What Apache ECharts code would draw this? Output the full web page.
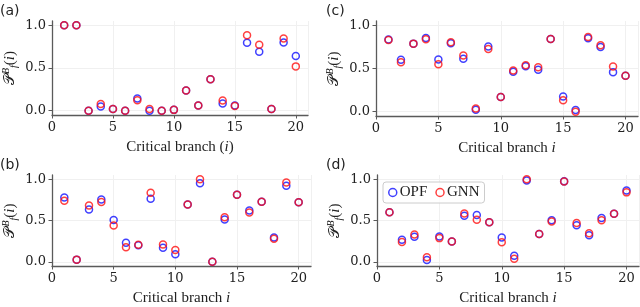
<!DOCTYPE html>
<html><head><meta charset="utf-8">
<script src="https://cdn.jsdelivr.net/npm/echarts@6/dist/echarts.min.js"></script>
<style>html,body{margin:0;padding:0;background:#fff}#c{width:640px;height:307px}</style>
</head><body><div id="c"></div>
<script>
const branches = [1,2,3,4,5,6,7,8,9,10,11,12,13,14,15,16,17,18,19,20];
const xTicks = [0,5,10,15,20];
const yTicks = [0,0.5,1.0];
// panel (a)
const opfA = [1.0,1.0,0.0,0.05,0.02,0.0,0.143,0.0,0.0,0.01,0.236,0.062,0.368,0.085,0.062,0.795,0.69,0.02,0.798,0.64];
const gnnA = [1.0,1.0,0.0,0.078,0.02,0.0,0.124,0.02,0.0,0.01,0.236,0.062,0.368,0.12,0.054,0.884,0.771,0.02,0.845,0.519];
// panel (b)
const opfB = [0.778,0.027,0.632,0.755,0.506,0.23,0.2,0.762,0.172,0.092,0.693,0.95,0.0,0.513,0.812,0.621,0.728,0.295,0.92,0.72];
const gnnB = [0.739,0.027,0.682,0.724,0.44,0.176,0.207,0.835,0.21,0.142,0.693,1.0,0.0,0.54,0.812,0.598,0.728,0.28,0.958,0.72];
// panel (c)
const opfC = [0.835,0.6,0.788,0.854,0.604,0.792,0.612,0.023,0.754,0.169,0.462,0.527,0.485,0.842,0.177,0.019,0.85,0.75,0.458,0.415];
const gnnC = [0.83,0.573,0.788,0.838,0.55,0.804,0.65,0.038,0.727,0.169,0.477,0.538,0.515,0.842,0.131,0.0,0.865,0.77,0.523,0.415];
// panel (d)
const opfD = [0.6,0.268,0.303,0.023,0.307,0.245,0.556,0.567,0.479,0.295,0.073,0.985,0.337,0.502,0.973,0.444,0.322,0.529,0.582,0.862];
const gnnD = [0.6,0.241,0.33,0.057,0.287,0.245,0.586,0.51,0.479,0.238,0.038,1.0,0.337,0.487,0.97,0.471,0.345,0.502,0.582,0.84];

const panels = [
  {label:'(a)', opf:opfA, gnn:gnnA, xname:'{n|Critical branch (}{i|i}{n|)}', grid:{left:49,top:21,width:259,height:94}, lx:0, ly:4},
  {label:'(b)', opf:opfB, gnn:gnnB, xname:'{n|Critical branch }{i|i}', grid:{left:49,top:175,width:262,height:95}, lx:0, ly:158},
  {label:'(c)', opf:opfC, gnn:gnnC, xname:'{n|Critical branch }{i|i}', grid:{left:376,top:21,width:262,height:95}, lx:326, ly:4},
  {label:'(d)', opf:opfD, gnn:gnnD, xname:'{n|Critical branch }{i|i}', grid:{left:377,top:175,width:262,height:95}, lx:326, ly:158}
];
const SERIF = 'DejaVu Serif';
const TSERIF = 'Liberation Serif';
const axisCol = '#5a5a5a';
const grids=[], xAxes=[], yAxes=[], series=[], graphics=[];
panels.forEach((p,k)=>{
  grids.push(p.grid);
  xAxes.push({type:'value', gridIndex:k, min:0, max:21, interval:5,
    axisLine:{show:true, onZero:false, lineStyle:{color:axisCol, width:1.3}},
    axisTick:{show:true, length:3.5, lineStyle:{color:axisCol}},
    axisLabel:{margin:6, fontFamily:SERIF, fontSize:13, fontWeight:'normal', color:'#222', showMaxLabel:false},
    splitLine:{show:true, lineStyle:{color:'#f0f0f0', width:1}},
    name:p.xname, nameLocation:'middle', nameGap:25,
    nameTextStyle:{fontFamily:TSERIF, fontWeight:'normal', rich:{n:{fontFamily:TSERIF, fontWeight:'normal', fontSize:15, color:'#222'}, i:{fontFamily:TSERIF, fontWeight:'normal', fontStyle:'italic', fontSize:15, color:'#222'}}}
  });
  yAxes.push({type:'value', gridIndex:k, min:-0.05, max:1.05,
    axisLine:{show:true, onZero:false, lineStyle:{color:axisCol, width:1.3}},
    axisTick:{show:true, length:3.5, lineStyle:{color:axisCol}, customValues:yTicks},
    axisLabel:{customValues:yTicks, margin:6, formatter:v=>v.toFixed(1), fontFamily:SERIF, fontSize:13, fontWeight:'normal', color:'#222'},
    splitLine:{show:true, lineStyle:{color:'#f0f0f0', width:1}},
    name:'{p|𝒫}{s|B}{f|f}{m|(}{i|i}{m|)}', nameLocation:'middle', nameGap:33, nameRotate:90,
    nameTextStyle:{fontFamily:TSERIF, fontWeight:'normal', rich:{
      p:{fontFamily:'DejaVu Serif', fontSize:15, color:'#222'},
      s:{fontFamily:TSERIF, fontStyle:'italic', fontSize:10, color:'#222', verticalAlign:'top', padding:[0,0,8,0]},
      f:{fontFamily:TSERIF, fontStyle:'italic', fontSize:10, color:'#222', verticalAlign:'bottom'},
      m:{fontFamily:TSERIF, fontSize:15, color:'#222'},
      i:{fontFamily:TSERIF, fontStyle:'italic', fontSize:15, color:'#222'}
    }}
  });
  series.push({name:'OPF', type:'scatter', xAxisIndex:k, yAxisIndex:k, symbol:'circle', symbolSize:7,
    data:branches.map((b,j)=>[b,p.opf[j]]),
    itemStyle:{color:'rgba(0,0,0,0)', borderColor:'#1010ff', borderWidth:1.5}, z:2});
  series.push({name:'GNN', type:'scatter', xAxisIndex:k, yAxisIndex:k, symbol:'circle', symbolSize:7,
    data:branches.map((b,j)=>[b,p.gnn[j]]),
    itemStyle:{color:'rgba(0,0,0,0)', borderColor:'#ff1010', borderWidth:1.5}, z:3});
  graphics.push({type:'text', left:p.lx, top:p.ly, style:{text:p.label, font:'14px "DejaVu Sans"', fill:'#222'}});
});
const chart = echarts.init(document.getElementById('c'), null, {renderer:'canvas'});
chart.setOption({
  animation:false,
  backgroundColor:'#fff',
  textStyle:{fontFamily:TSERIF},
  grid:grids, xAxis:xAxes, yAxis:yAxes, series:series, graphic:graphics,
  legend:{data:[
      {name:'OPF', icon:'circle', itemStyle:{color:'rgba(0,0,0,0)', borderColor:'#1010ff', borderWidth:1.5}},
      {name:'GNN', icon:'circle', itemStyle:{color:'rgba(0,0,0,0)', borderColor:'#ff1010', borderWidth:1.5}}],
    left:383, top:182, itemWidth:8, itemHeight:8, itemGap:8,
    padding:[3,5,3,5], borderColor:'#cccccc', borderWidth:1, borderRadius:3, backgroundColor:'rgba(255,255,255,0.8)',
    textStyle:{fontFamily:TSERIF, fontSize:15, color:'#222', padding:[0,0,0,-2]}}
});
</script></body></html>
